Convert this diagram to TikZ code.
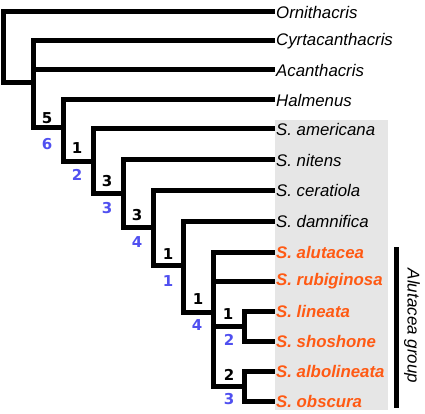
\documentclass[tikz,border=0pt]{standalone}
\usepackage{fontspec}
\setmainfont{Liberation Sans}
\newfontfamily\numfont{DejaVu Sans}
\usepackage{tikz}
\pgfdeclarelayer{background}
\pgfdeclarelayer{foreground}
\pgfsetlayers{background,main,foreground}
\definecolor{suppblue}{RGB}{80,80,240}
\definecolor{taxorange}{RGB}{255,90,20}
\definecolor{boxgray}{RGB}{230,230,230}
\tikzset{
  branch/.style={line width=5pt},
  tip/.style={anchor=west,inner sep=1pt,font=\fontsize{16.8}{17}\selectfont\itshape},
  ingroup/.style={tip,text=taxorange,font=\fontsize{16.8}{17}\selectfont\bfseries\itshape},
  bs/.style={inner sep=0pt,font=\numfont\fontsize{15}{15}\selectfont\bfseries},
  bay/.style={bs,text=suppblue}
}

\begin{document}
\begin{tikzpicture}[x=1pt,y=-1pt]
\useasboundingbox (0,0) rectangle (425,414);
\begin{pgfonlayer}{background}
\fill[boxgray] (275,120) rectangle (388,410);
\end{pgfonlayer}
% tips
\node[tip] (orn) at (275,12) {Ornithacris};
\node[tip] (cyr) at (275,41) {Cyrtacanthacris};
\node[tip] (aca) at (275,70) {Acanthacris};
\node[tip] (hal) at (275,100) {Halmenus};
\node[tip] (ame) at (275,129) {S. americana};
\node[tip] (nit) at (275,160) {S. nitens};
\node[tip] (cer) at (275,190) {S. ceratiola};
\node[tip] (dam) at (275,221) {S. damnifica};
\node[ingroup] (alu) at (275,252) {S. alutacea};
\node[ingroup] (rub) at (275,281) {S. rubiginosa};
\node[ingroup] (lin) at (275,311) {S. lineata};
\node[ingroup] (sho) at (275,341) {S. shoshone};
\node[ingroup] (alb) at (275,371) {S. albolineata};
\node[ingroup] (obs) at (275,401) {S. obscura};
% internal nodes
\coordinate (root) at (3,47);
\coordinate (nA) at (33,83);
\coordinate (nB) at (63,128);
\coordinate (nC) at (93,162);
\coordinate (nD) at (123,193);
\coordinate (nE) at (153,227);
\coordinate (nF) at (183,265);
\coordinate (nG) at (213,312);
\coordinate (nH) at (244,326);
\coordinate (nI) at (244,386);
% branches
\draw[branch] (orn.west) -| (root) |- (nA);
\draw[branch] (cyr.west) -| (nA) |- (nB);
\draw[branch] (aca.west) -- (aca.west -| nA);
\draw[branch] (hal.west) -| (nB) |- (nC);
\draw[branch] (ame.west) -| (nC) |- (nD);
\draw[branch] (nit.west) -| (nD) |- (nE);
\draw[branch] (cer.west) -| (nE) |- (nF);
\draw[branch] (dam.west) -| (nF) |- (nG);
\draw[branch] (alu.west) -| (nG) |- (nI);
\draw[branch] (rub.west) -- (rub.west -| nG);
\draw[branch] (nG |- nH) -- (nH);
\draw[branch] (lin.west) -| (nH) |- (sho.west);
\draw[branch] (alb.west) -| (nI) |- (obs.west);
% support values
\node[bs] (sB) at (47,118) {5};
\node[bay] (bB) at (47,144) {6};
\node[bs] (sC) at (77,148) {1};
\node[bay] (bC) at (77,175) {2};
\node[bs] (sD) at (107,181) {3};
\node[bay] (bD) at (107,208) {3};
\node[bs] (sE) at (137,215) {3};
\node[bay] (bE) at (137,242) {4};
\node[bs] (sF) at (168,254) {1};
\node[bay] (bF) at (168,281) {1};
\node[bs] (sG) at (198,299) {1};
\node[bay] (bG) at (197,325) {4};
\node[bs] (sH) at (228,314) {1};
\node[bay] (bH) at (229,340) {2};
\node[bs] (sI) at (229,375) {2};
\node[bay] (bI) at (229,399) {3};
% group bar
\coordinate (gtop) at (396.5,247);
\coordinate (gbot) at (396.5,408);
\draw[branch] (gtop) -- (gbot);
\node[rotate=-90,font=\fontsize{17}{17}\selectfont\itshape] (grp) at (412,326) {Alutacea group};
\end{tikzpicture}
\end{document}
